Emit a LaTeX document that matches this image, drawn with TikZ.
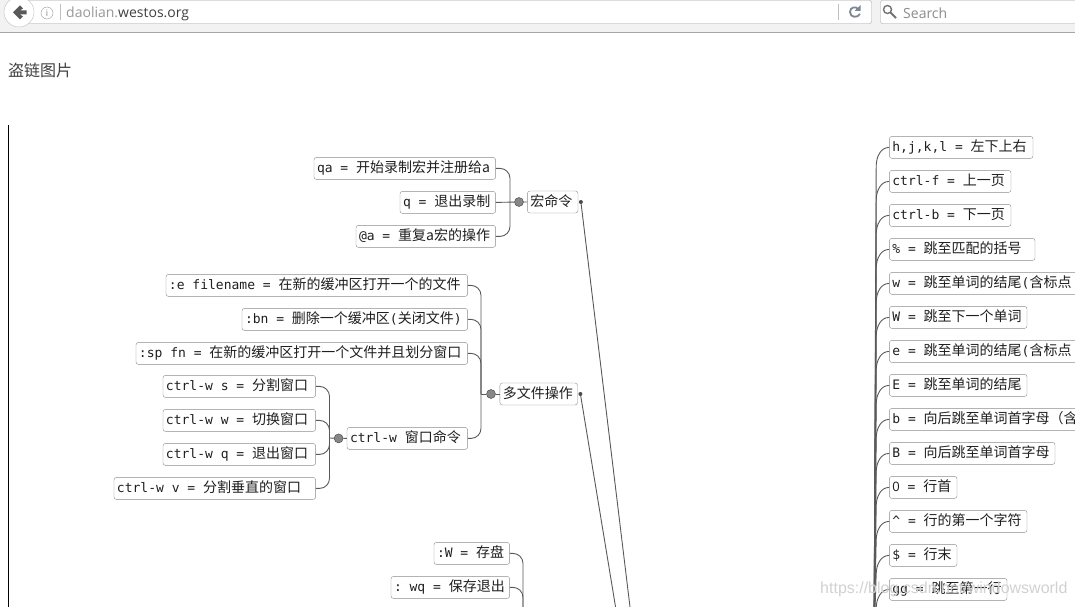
\documentclass[tikz,border=0pt]{standalone}
\usepackage{fontspec}
\setmonofont{DejaVu Sans Mono}
\setsansfont{Open Sans}
\newfontfamily\cjk{Noto Sans CJK SC}
\newfontfamily\markfont{Liberation Sans}
\usetikzlibrary{positioning}
\definecolor{reload}{HTML}{7D8794}
\newcommand{\zh}[1]{{\cjk\fontsize{14}{16}\selectfont #1}}
\begin{document}
\begin{tikzpicture}[x=1pt,y=-1pt,
  every matrix/.style={ampersand replacement=\&,row sep=11.6pt,inner sep=0pt},
  leaf/.style={draw=black!45,rounded corners=2.5pt,fill=white,minimum height=22pt,inner sep=0pt,inner xsep=3pt,text height=11pt,text depth=2pt,font=\ttfamily\fontsize{13}{15}\selectfont,text=black!88},
  lefty/.style={leaf,anchor=east},
  righty/.style={leaf,anchor=west},
  wide/.style={text width=#1pt-6.4pt,align=flush left},
  dot/.style={circle,draw=black!75,fill=black!47,inner sep=0pt,minimum size=9pt},
  knot/.style={circle,fill=black!70,inner sep=0pt,minimum size=4pt},
  branch/.style={draw=black!65,line width=.9pt,rounded corners=10pt},
  stem/.style={draw=black!65,line width=.9pt},
  frame/.style={draw=black!35,fill=white,rounded corners=2pt}]

  \clip (0,0) rectangle (1075,607);

  % browser bar
  \fill[black!5] (0,0) rectangle (1075,32);
  \draw[black!35] (0,32.5) -- (1075,32.5);
  \draw[frame] (15,0.5) rectangle (871.5,23.5);
  \draw[frame] (880.5,0.5) rectangle (1090,23.5);
  \draw[black!25,fill=white] (19,12) circle (15);
  \fill[black!65] (13,12.5) -- (20,5.5) -- (23,8.5) -- (20,10.5) -- (26.5,10.5) -- (26.5,14.5) -- (20,14.5) -- (23,16.5) -- (20,19.5) -- cycle;
  \draw[black!40] (47,13) circle (6);
  \node[text=black!50,inner sep=0pt,font=\sffamily\fontsize{9}{9}\selectfont] (info) at (47,13) {i};
  \draw[black!25] (60.5,4) -- (60.5,20);
  \draw[black!25] (838.5,4) -- (838.5,20);
  \draw[reload,line width=1.8pt] (860,14) .. controls (858,18) and (850,18) .. (850,12) .. controls (850,7) and (856,6) .. (858,9);
  \fill[reload] (860.5,5) -- (860.5,11) -- (854.5,11) -- cycle;
  \draw[black!55,line width=1.4pt] (887.5,9.5) circle (4);
  \draw[black!55,line width=1.8pt] (890.5,12.5) -- (896,18);
  \node[anchor=west,inner sep=0pt,font=\sffamily\fontsize{14}{16}\selectfont] (address) at (66,13.5) {\textcolor{black!40}{daolian.}\textcolor{black!75}{westos.org}};
  \node[anchor=west,inner sep=0pt,text=black!45,font=\sffamily\fontsize{14}{16}\selectfont] (search) at (903,13.5) {Search};

  \node[anchor=west,inner sep=0pt,text=black!75] (title) at (8,70) {\cjk\fontsize{16}{18}\selectfont 盗链图片};
  \draw[black,semithick] (8.5,125) -- (8.5,607);

  % left groups
  \matrix[anchor=north east] (macrokeys) at (496,157) {
    \node[lefty,wide=182] (qa) {qa = \zh{开始录制宏并注册给a}}; \\
    \node[lefty,wide=96] (q) {q = \zh{退出录制}}; \\
    \node[lefty,wide=140] (at) {@a = \zh{重复a宏的操作}}; \\
  };
  \node[dot] (macrodot) at (519,202) {};
  \node[righty,wide=51,right=3.5pt of macrodot] (macro) {\zh{宏命令}};
  \node[knot,right=0.5pt of macro] (macroknot) {};
  \coordinate (macrospine) at (510,202);
  \coordinate (macrofoot) at (634,640);
  \draw[branch] (qa.east) -| (macrospine);
  \draw[branch] (at.east) -| (macrospine);
  \draw[stem] (q.east) -- (macrodot) -- (macro);
  \draw[stem] (macroknot) -- (macrofoot);

  \matrix[anchor=north east] (filekeys) at (468,274) {
    \node[lefty,wide=302] (edit) {:e filename = \zh{在新的缓冲区打开一个的文件}}; \\
    \node[lefty,wide=226] (bn) {:bn = \zh{删除一个缓冲区}(\zh{关闭文件})}; \\
    \node[lefty,wide=332] (sp) {:sp fn = \zh{在新的缓冲区打开一个文件并且划分窗口}}; \\[51pt]
    \node[lefty,wide=121] (win) {ctrl-w \zh{窗口命令}}; \\
  };
  \node[dot] (filedot) at (491,394) {};
  \node[righty,wide=78,right=4pt of filedot] (file) {\zh{多文件操作}};
  \node[knot,right=0.5pt of file] (fileknot) {};
  \coordinate (filespine) at (481,394);
  \coordinate (filefoot) at (621,640);
  \foreach \leaf in {edit,bn,sp,win}
    \draw[branch] (\leaf.east) -| (filespine);
  \draw[stem] (filespine) -- (filedot) -- (file);
  \draw[stem] (fileknot) -- (filefoot);

  \matrix[anchor=north east] (winkeys) at (316,375) {
    \node[lefty,wide=153] (wins) {ctrl-w s = \zh{分割窗口}}; \\
    \node[lefty,wide=153] (winw) {ctrl-w w = \zh{切换窗口}}; \\
    \node[lefty,wide=153] (winq) {ctrl-w q = \zh{退出窗口}}; \\
    \node[lefty,wide=202] (winv) {ctrl-w v = \zh{分割垂直的窗口}}; \\
  };
  \node[dot,left=3.5pt of win] (windot) {};
  \coordinate (winspine) at (329.5,438);
  \foreach \leaf in {wins,winw,winq,winv}
    \draw[branch] (\leaf.east) -| (winspine);
  \draw[stem] (winspine) -- (windot) -- (win);

  \matrix[anchor=north east] (savekeys) at (510,542) {
    \node[lefty,wide=76] (save) {:W = \zh{存盘}}; \\
    \node[lefty,wide=119] (quit) {: wq = \zh{保存退出}}; \\
  };
  \coordinate (savespine) at (523,640);
  \draw[branch] (save.east) -| (savespine);
  \draw[branch] (quit.east) -| (savespine);

  % right column
  \matrix[anchor=north west] (movekeys) at (889,136) {
    \node[righty,wide=144] (hjkl) {h,j,k,l = \zh{左下上右}}; \\
    \node[righty,wide=122] (ctrlf) {ctrl-f = \zh{上一页}}; \\
    \node[righty,wide=122] (ctrlb) {ctrl-b = \zh{下一页}}; \\
    \node[righty,wide=146] (pct) {\% = \zh{跳至匹配的括号}}; \\
    \node[righty,wide=220] (lw) {w = \zh{跳至单词的结尾}(\zh{含标点}}; \\
    \node[righty,wide=138] (uw) {W = \zh{跳至下一个单词}}; \\
    \node[righty,wide=220] (le) {e = \zh{跳至单词的结尾}(\zh{含标点}}; \\
    \node[righty,wide=138] (ue) {E = \zh{跳至单词的结尾}}; \\
    \node[righty,wide=220] (lb) {b = \zh{向后跳至单词首字母（含}}; \\
    \node[righty,wide=166] (ub) {B = \zh{向后跳至单词首字母}}; \\
    \node[righty,wide=68] (zero) {{\sffamily 0} = \zh{行首}}; \\
    \node[righty,wide=138] (caret) {\textasciicircum{} = \zh{行的第一个字符}}; \\
    \node[righty,wide=68] (dollar) {\$ = \zh{行末}}; \\
    \node[righty,wide=118] (gg) {gg = \zh{跳至第一行}}; \\
  };
  \coordinate (movefoot) at (874,640);
  \foreach \leaf in {hjkl,ctrlf,ctrlb,pct,lw,uw,le,ue,lb,ub,zero,caret,dollar,gg}
    \draw[stem] (\leaf.west) to[out=180,in=88] ++(-13,18) -- (movefoot);

  \node[anchor=west,inner sep=0pt,text=black!18,font=\markfont\fontsize{16}{18}\selectfont] (mark) at (820,589) {https://blog.csdn.net/windowsworld};
\end{tikzpicture}
\end{document}
